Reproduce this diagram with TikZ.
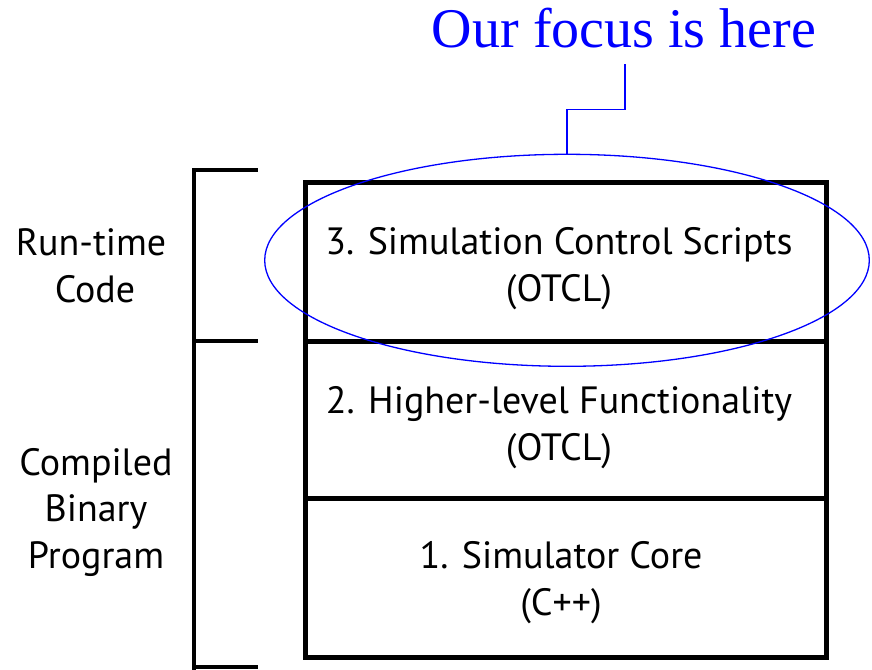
\documentclass[tikz,border=0pt]{standalone}
\usepackage{fontspec}
\setmainfont{PT Sans}
\newfontfamily\titlefont{Liberation Serif}
\usetikzlibrary{shapes.geometric}
\definecolor{focusblue}{RGB}{0,0,255}
\tikzset{
  layer/.style={draw=black, line width=5pt, minimum width=521pt, inner sep=0pt},
  lbl/.style={font=\fontsize{38}{38}\selectfont, anchor=base, inner sep=0pt},
  brk/.style={line width=4.5pt, line cap=rect},
  focus/.style={draw=focusblue, line width=1.3pt, ellipse, inner sep=0pt, minimum width=604.6pt, minimum height=212pt},
  callout/.style={draw=focusblue, line width=1.4pt},
}
\begin{document}
\begin{tikzpicture}[x=1pt,y=-1pt]
\useasboundingbox (0,0) rectangle (872,669);
% layers
\node[layer, minimum height=159pt] (l3) at (565.5,261.5) {};
\node[layer, minimum height=157pt] (l2) at (565.5,419.5) {};
\node[layer, minimum height=159pt] (l1) at (565.5,577.5) {};
% layer texts
\node[lbl] (t3a) at (559,254) {3. Simulation Control Scripts};
\node[lbl] (t3b) at (559,301) {(OTCL)};
\node[lbl] (t2a) at (559,413) {2. Higher-level Functionality};
\node[lbl] (t2b) at (559,460) {(OTCL)};
\node[lbl] (t1a) at (561,568) {1. Simulator Core};
\node[lbl] (t1b) at (561,615) {(C++)};
% left labels
\node[lbl] (r1) at (91,255) {Run-time};
\node[lbl] (r2) at (95,302) {Code};
\node[lbl] (c1) at (96,475) {Compiled};
\node[lbl] (c2) at (96,521) {Binary};
\node[lbl] (c3) at (96,568) {Program};
% bracket
\coordinate (bt) at (194,170);
\coordinate (bm) at (194,341);
\coordinate (bb) at (194,667);
\coordinate (btr) at (256,170);
\coordinate (bmr) at (256,341);
\coordinate (bbr) at (256,667);
\draw[brk] (btr) -- (bt) -- (194,675);
\draw[brk] (bm) -- (bmr);
\draw[brk] (bb) -- (bbr);
% focus ellipse and callout
\node[focus] (foc) at (567,260.3) {};
\node[font=\titlefont\fontsize{56}{56}\selectfont, text=focusblue, anchor=base, inner sep=0pt] (title) at (624,48) {Our focus is here};
\coordinate (k1) at (567,109.3);
\coordinate (k2) at (625,109.3);
\coordinate (k3) at (625,64);
\draw[callout] (foc.north) -- (k1) -- (k2) -- (k3);
\end{tikzpicture}
\end{document}
